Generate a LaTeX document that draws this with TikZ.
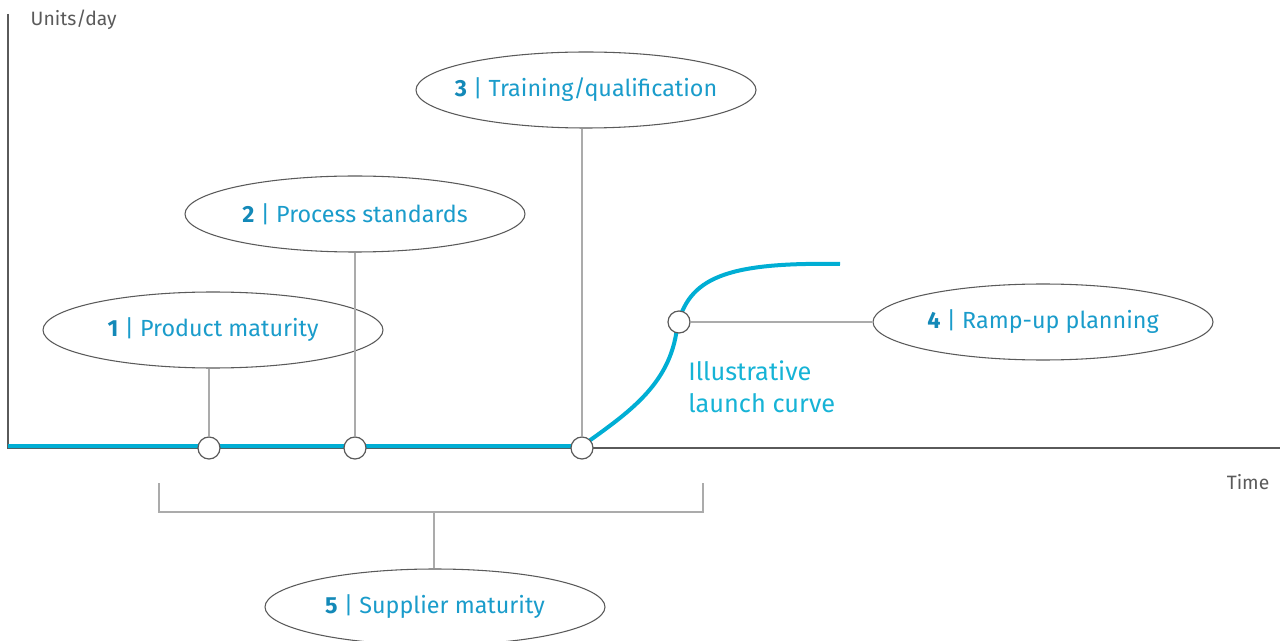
\documentclass[tikz,border=0pt]{standalone}
\usepackage{fontspec}
\setmainfont{Fira Sans}
\usetikzlibrary{shapes.geometric}
\definecolor{axisgray}{HTML}{5A5A5A}
\definecolor{leadgray}{HTML}{ABABAB}
\definecolor{labelblue}{HTML}{1A9CCB}
\definecolor{numblue}{HTML}{1389B8}
\definecolor{curveblue}{HTML}{00AED4}
\definecolor{notecyan}{HTML}{16B3D6}
\begin{document}
\begin{tikzpicture}[x=0.75pt,y=-0.75pt,
  bubble/.style={ellipse,draw=axisgray,line width=0.8pt,fill=white,
    minimum width=255pt,minimum height=57pt,inner xsep=-60pt,inner ysep=0pt,
    font=\fontsize{17.5}{20}\selectfont,text=labelblue},
  marker/.style={circle,draw=axisgray,line width=0.9pt,fill=white,
    minimum size=16.5pt,inner sep=0pt},
  lead/.style={draw=leadgray,line width=1pt},
  axislabel/.style={font=\fontsize{14.5}{17}\selectfont,text=axisgray}]
\useasboundingbox (0,0) rectangle (1280,641);

% axes
\draw[axisgray,line width=1.1pt] (8,14) -- (8,448) -- (1280,448);
\node[axislabel,anchor=west] (ylab) at (26,20) {Units/day};
\node[axislabel,anchor=east] (xlab) at (1274,482) {Time};

% launch curve
\draw[curveblue,line width=3pt] (8,446) -- (582,446)
  .. controls (628,413) and (670,385) .. (677,328)
  .. controls (688,278) and (725,262) .. (840,264);

% bracket for supplier maturity
\coordinate (b1) at (159,483);
\coordinate (b2) at (159,512);
\coordinate (b3) at (703,512);
\coordinate (b4) at (703,483);
\coordinate (bm) at (434,512);

% markers on the curve
\node[marker] (c1) at (209,448) {};
\node[marker] (c2) at (355,448) {};
\node[marker] (c3) at (582,448) {};
\node[marker] (c4) at (679,322) {};

% labels
\node[bubble] (e1) at (213,330) {\textbf{\color{numblue}1} | Product maturity};
\node[bubble] (e2) at (355,214) {\textbf{\color{numblue}2} | Process standards};
\node[bubble] (e3) at (586,90) {\textbf{\color{numblue}3} | Training/qualification};
\node[bubble] (e4) at (1043,322) {\textbf{\color{numblue}4} | Ramp-up planning};
\node[bubble] (e5) at (435,607) {\textbf{\color{numblue}5} | Supplier maturity};

\draw[lead] (e1.south -| c1) -- (c1);
\draw[lead] (e2.south -| c2) -- (c2);
\draw[lead] (e3.south -| c3) -- (c3);
\draw[lead] (c4) -- (c4 -| e4.west);
\draw[lead] (b1) -- (b2) -- (b3) -- (b4);
\draw[lead] (bm) -- (e5.north -| bm);

\node[anchor=north west,align=left,text=notecyan,
  font=\fontsize{19}{24}\selectfont,inner sep=0pt] (note) at (688,360)
  {Illustrative\\launch curve};
\end{tikzpicture}
\end{document}
